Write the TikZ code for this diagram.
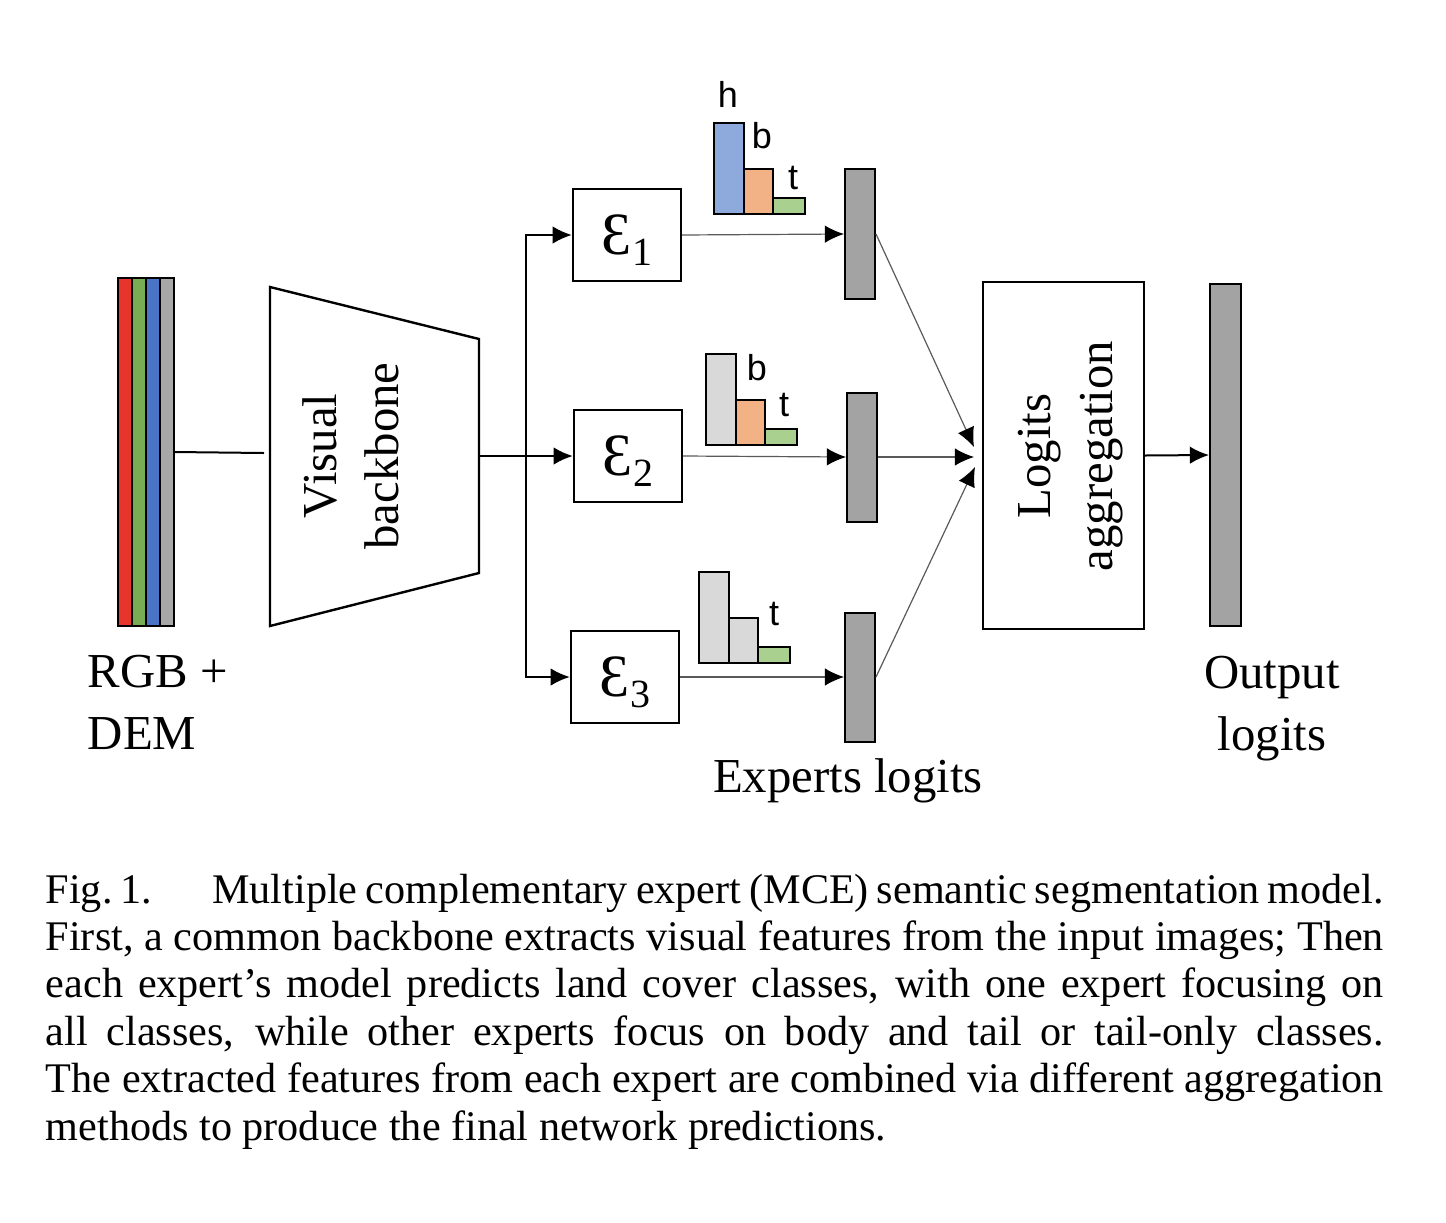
\documentclass[tikz,border=0pt]{standalone}
\usepackage{fontspec}
\setmainfont{Liberation Serif}
\setsansfont{Liberation Sans}
\usetikzlibrary{arrows.meta}
\definecolor{stripred}{HTML}{E8352B}
\definecolor{stripgreen}{HTML}{78AD55}
\definecolor{stripblue}{HTML}{4A74C6}
\definecolor{stripgray}{HTML}{A8A8A8}
\definecolor{logitgray}{HTML}{A3A3A3}
\definecolor{headblue}{HTML}{8EA9DB}
\definecolor{bodyorange}{HTML}{F2B285}
\definecolor{tailgreen}{HTML}{A9D08E}
\definecolor{mutegray}{HTML}{D9D9D9}
\definecolor{feedgray}{HTML}{5A5A5A}
\begin{document}
\begin{tikzpicture}[x=0.25pt,y=-0.25pt,>={Latex[length=4.8pt,width=4.4pt,color=black]}]
  \tikzstyle{block}=[draw,rectangle,line width=0.6pt,inner sep=0pt,minimum width=27pt,minimum height=23pt]
  \tikzstyle{logit}=[draw,fill=logitgray,rectangle,line width=0.5pt,inner sep=0pt,minimum width=7.5pt]
  \tikzstyle{feed}=[->,line width=0.3pt,draw=feedgray]
  \tikzstyle{wire}=[line width=0.5pt]
  \tikzstyle{lbl}=[font=\fontsize{12.2pt}{15.5pt}\selectfont,inner sep=0pt]
  \tikzstyle{cls}=[font=\sffamily\fontsize{9pt}{10pt}\selectfont,inner sep=0pt]
  \tikzstyle{bar}=[draw,line width=0.5pt]
  \def\jx{526}	% x of the expert fork
  \def\expsym#1{{\fontsize{15pt}{18pt}\selectfont Ɛ}\raisebox{-2.7pt}[0pt][0pt]{\fontsize{10pt}{12pt}\selectfont #1}}
  \useasboundingbox (0,0) rectangle (1446,1222);

  % input stack
  \foreach \c [count=\i] in {stripred,stripgreen,stripblue,stripgray}
    \filldraw[fill=\c,draw=black,line width=0.4pt] (104+14*\i,278) rectangle (118+14*\i,626);
  \node[draw,line width=0.5pt,inner sep=0pt,minimum width=14pt,minimum height=87pt] (stack) at (146,452) {};
  \node[lbl,align=left,anchor=base west] (inlbl) at (87,749) {RGB +\\DEM};

  % backbone
  \draw[line width=0.6pt] (270,287) -- (479,339) -- (479,573) -- (270,626) -- cycle;
  \node[lbl,rotate=90,align=center] (bb) at (351,456) {Visual\\backbone};
  \coordinate (bbin) at (264,453);
  \coordinate (bbout) at (479,456);
  \draw[wire] (stack.east) -- (bbin);

  % experts
  \node[block] (e1) at (627,235) {\expsym{1}};
  \node[block] (e2) at (628,456) {\expsym{2}};
  \node[block] (e3) at (625,677) {\expsym{3}};
  \coordinate (fork) at (\jx,456);
  \draw[wire,->] (bbout) -- (e2.west);
  \draw[wire,->] (fork) |- (e1.west);
  \draw[wire,->] (fork) |- (e3.west);

  % class histograms
  \foreach \x/\y/\ca/\cb in {714/214/headblue/bodyorange,706/445/mutegray/bodyorange,699/663/mutegray/mutegray} {
    \draw[bar,fill=\ca] (\x,\y-91) rectangle (\x+30,\y);
    \draw[bar,fill=\cb] (\x+30,\y-45) rectangle (\x+59,\y);
    \draw[bar,fill=tailgreen] (\x+59,\y-16) rectangle (\x+91,\y);
  }
  \node[cls] (h1) at (728,94) {h};
  \node[cls] (b1) at (762,136) {b};
  \node[cls] (t1) at (793,178) {t};
  \node[cls] (b2) at (757,368) {b};
  \node[cls] (t2) at (784,405) {t};
  \node[cls] (t3) at (774,614) {t};

  % expert logits
  \node[logit,minimum height=32.5pt] (l1) at (860,234) {};
  \node[logit,minimum height=32.25pt] (l2) at (862,457) {};
  \node[logit,minimum height=32.25pt] (l3) at (860,677) {};
  \draw[feed] (e1.east) -- (l1.west);
  \draw[feed] (e2.east) -- (l2.west);
  \draw[feed] (e3.east) -- (l3.west);
  \node[lbl,anchor=base] (explbl) at (848,792) {Experts logits};

  % aggregation
  \node[block,minimum width=40.25pt,minimum height=86.75pt] (agg) at (1063.5,455.5) {};
  \node[lbl,rotate=90,align=center] (agglbl) at (1071,456) {Logits\\aggregation};
  \coordinate (in1) at (974,447);
  \coordinate (in2) at (974,457);
  \coordinate (in3) at (975,467);
  \draw[feed] (l1.east) -- (in1);
  \draw[feed] (l2.east) -- (in2);
  \draw[feed] (l3.east) -- (in3);

  % output
  \node[logit,minimum width=7.75pt,minimum height=85.5pt] (out) at (1225.5,455) {};
  \draw[wire,->] (agg.east) -- (out.west);
  \node[lbl,align=center,anchor=base] (outlbl) at (1272,750) {Output\\logits};

  % caption
  \node[anchor=base west,text width=334.5pt,align=justify,inner sep=0pt,font=\fontsize{10.55pt}{11.85pt}\selectfont] (cap) at (45,903)
    {\hyphenpenalty=10000 Fig.~1.\hspace{15pt}Multiple complementary expert (MCE) semantic segmentation model.\linebreak
     First, a common backbone extracts visual features from the input images; Then\linebreak
     each expert’s model predicts land cover classes, with one expert focusing on\linebreak
     all classes, while other experts focus on body and tail or tail-only classes.\linebreak
     The extracted features from each expert are combined via different aggregation\linebreak
     methods to produce the final network predictions.};
\end{tikzpicture}
\end{document}
